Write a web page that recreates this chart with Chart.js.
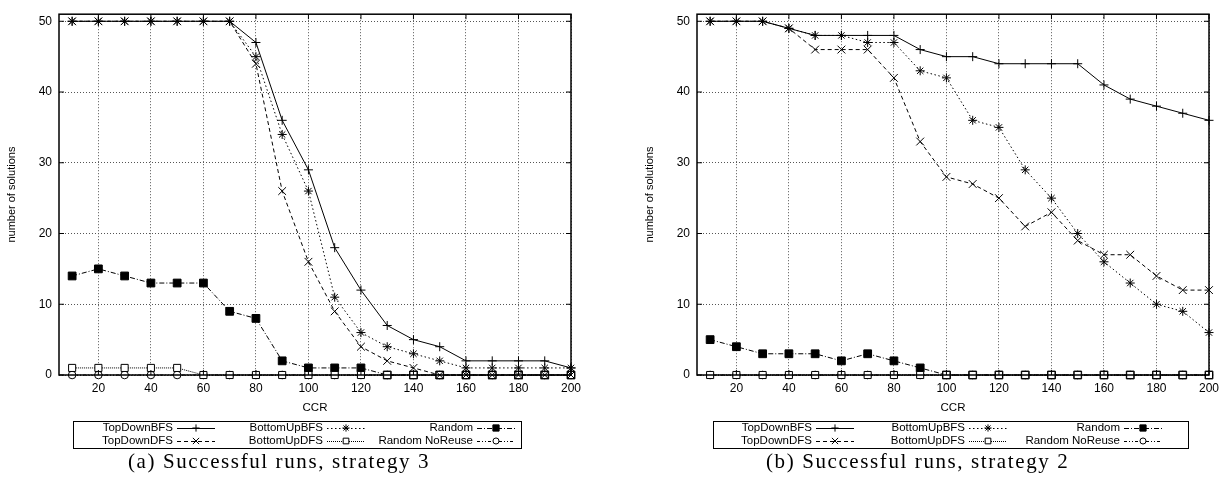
<!DOCTYPE html>
<html>
<head>
<meta charset="utf-8">
<script src="https://cdn.jsdelivr.net/npm/chart.js@4.4.1/dist/chart.umd.min.js"></script>
<style>
  body { margin: 0; background: #fff; width: 1226px; height: 481px; position: relative; overflow: hidden; }
  canvas { position: absolute; top: 0; }
  .caption { position: absolute; top: 450px; font-family: "Liberation Serif", serif; font-size: 21px; line-height: 23px; white-space: nowrap; letter-spacing: 1.6px; }
</style>
</head>
<body>
<canvas id="chartA" width="613" height="452" style="left:0"></canvas>
<canvas id="chartB" width="613" height="452" style="left:613px"></canvas>
<div class="caption" style="left:128px">(a) Successful runs, strategy 3</div>
<div class="caption" style="left:766px">(b) Successful runs, strategy 2</div>
<script>
// donnees
const ccr = [10, 20, 30, 40, 50, 60, 70, 80, 90, 100, 110, 120, 130, 140, 150, 160, 170, 180, 190, 200];
const xTicks = [20, 40, 60, 80, 100, 120, 140, 160, 180, 200];
const yTicks = [0, 10, 20, 30, 40, 50];
const seriesNames = ['TopDownBFS', 'TopDownDFS', 'BottomUpBFS', 'BottomUpDFS', 'Random', 'Random NoReuse'];

// (a) strategie 3
const s3TopDownBFS   = [50, 50, 50, 50, 50, 50, 50, 47, 36, 29, 18, 12, 7, 5, 4, 2, 2, 2, 2, 1];
const s3TopDownDFS   = [50, 50, 50, 50, 50, 50, 50, 44, 26, 16, 9, 4, 2, 1, 0, 0, 0, 0, 0, 0];
const s3BottomUpBFS  = [50, 50, 50, 50, 50, 50, 50, 45, 34, 26, 11, 6, 4, 3, 2, 1, 1, 1, 1, 1];
const s3BottomUpDFS  = [1, 1, 1, 1, 1, 0, 0, 0, 0, 0, 0, 0, 0, 0, 0, 0, 0, 0, 0, 0];
const s3Random       = [14, 15, 14, 13, 13, 13, 9, 8, 2, 1, 1, 1, 0, 0, 0, 0, 0, 0, 0, 0];
const s3RandomNoReuse = [0, 0, 0, 0, 0, 0, 0, 0, 0, 0, 0, 0, 0, 0, 0, 0, 0, 0, 0, 0];

// (b) strategie 2
const s2TopDownBFS   = [50, 50, 50, 49, 48, 48, 48, 48, 46, 45, 45, 44, 44, 44, 44, 41, 39, 38, 37, 36];
const s2TopDownDFS   = [50, 50, 50, 49, 46, 46, 46, 42, 33, 28, 27, 25, 21, 23, 19, 17, 17, 14, 12, 12];
const s2BottomUpBFS  = [50, 50, 50, 49, 48, 48, 47, 47, 43, 42, 36, 35, 29, 25, 20, 16, 13, 10, 9, 6];
const s2BottomUpDFS  = [0, 0, 0, 0, 0, 0, 0, 0, 0, 0, 0, 0, 0, 0, 0, 0, 0, 0, 0, 0];
const s2Random       = [5, 4, 3, 3, 3, 2, 3, 2, 1, 0, 0, 0, 0, 0, 0, 0, 0, 0, 0, 0];
const s2RandomNoReuse = [0, 0, 0, 0, 0, 0, 0, 0, 0, 0, 0, 0, 0, 0, 0, 0, 0, 0, 0, 0];

// styles des courbes (style gnuplot noir et blanc)
const lineStyles = [
    { dash: [], point: 'cross', radius: 4.5, fill: '#000' },
    { dash: [4, 3], point: 'crossRot', radius: 5.5, fill: '#000' },
    { dash: [1.5, 2.5], point: 'star', radius: 4.5, fill: '#000' },
    { dash: [1, 1], point: 'rect', radius: 5, fill: '#fff' },
    { dash: [5, 2, 1, 2], point: 'rect', radius: 5.5, fill: '#000' },
    { dash: [3, 2, 1, 2, 1, 2], point: 'circle', radius: 3.8, fill: '#fff' }
];

function makeDatasets(series) {
    return series.map(function (values, i) {
        const st = lineStyles[i];
        return {
            label: seriesNames[i],
            data: ccr.map(function (c, k) { return { x: c, y: values[k] }; }),
            borderColor: '#000',
            backgroundColor: st.fill,
            borderWidth: 1,
            borderDash: st.dash,
            pointStyle: st.point,
            pointRadius: st.radius,
            pointBorderWidth: 1,
            pointBorderColor: '#000',
            pointBackgroundColor: st.fill,
            tension: 0,
            clip: false
        };
    });
}

// cadre, petits traits de graduation et legende encadree
const framePlugin = {
    id: 'frameLegend',
    afterDraw: function (chart, args, opts) {
        const ctx = chart.ctx;
        const a = chart.chartArea;
        const xs = chart.scales.x, ys = chart.scales.y;
        ctx.save();
        ctx.strokeStyle = '#000';
        ctx.lineWidth = 1;
        ctx.setLineDash([]);
        ctx.beginPath();
        xTicks.forEach(function (v) {
            const px = xs.getPixelForValue(v);
            ctx.moveTo(px, a.bottom); ctx.lineTo(px, a.bottom - 5);
            ctx.moveTo(px, a.top); ctx.lineTo(px, a.top + 5);
        });
        yTicks.forEach(function (v) {
            const py = ys.getPixelForValue(v);
            ctx.moveTo(a.left, py); ctx.lineTo(a.left + 5, py);
            ctx.moveTo(a.right, py); ctx.lineTo(a.right - 5, py);
        });
        ctx.stroke();
        ctx.lineWidth = 1.5;
        ctx.strokeRect(a.left, a.top, a.right - a.left, a.bottom - a.top);

        // legende
        const lg = opts.box;
        ctx.lineWidth = 1;
        ctx.strokeRect(lg.left + 0.5, lg.top + 0.5, lg.width, lg.height);
        ctx.font = '11.5px "Liberation Sans", Arial, sans-serif';
        ctx.textAlign = 'right';
        ctx.textBaseline = 'middle';
        chart.data.datasets.forEach(function (ds, i) {
            const col = lg.cols[Math.floor(i / 2)];
            const y = lg.top + lg.rows[i % 2];
            ctx.fillStyle = '#000';
            ctx.fillText(ds.label, lg.left + col.textRight, y);
            const x0 = lg.left + col.textRight + 4, x1 = x0 + lg.sample;
            ctx.setLineDash(ds.borderDash);
            ctx.beginPath();
            ctx.moveTo(x0, y + 0.5); ctx.lineTo(x1, y + 0.5);
            ctx.stroke();
            ctx.setLineDash([]);
            ctx.fillStyle = ds.pointBackgroundColor;
            Chart.helpers.drawPoint(ctx, {
                pointStyle: ds.pointStyle, radius: ds.pointRadius * 0.8, rotation: 0, borderWidth: 1
            }, (x0 + x1) / 2, y);
        });
        ctx.restore();
    }
};

function buildChart(id, series, padLeft, padRight, legendBox) {
    const ctx = document.getElementById(id).getContext('2d');
    return new Chart(ctx, {
        type: 'line',
        data: { datasets: makeDatasets(series) },
        options: {
            responsive: false,
            animation: false,
            events: [],
            layout: { padding: { left: padLeft, right: padRight, top: 8, bottom: 33 } },
            plugins: {
                legend: { display: false },
                tooltip: { enabled: false },
                frameLegend: { box: legendBox }
            },
            scales: {
                x: {
                    type: 'linear',
                    min: 5,
                    max: 200,
                    afterBuildTicks: function (s) { s.ticks = xTicks.map(function (v) { return { value: v }; }); },
                    afterFit: function (s) { s.height = 44; },
                    grid: { color: '#555', lineWidth: 1, drawTicks: false },
                    border: { display: false, dash: [1, 2] },
                    ticks: { color: '#000', padding: 6, maxRotation: 0, font: { family: '"Liberation Sans", Arial, sans-serif', size: 12 } },
                    title: { display: true, text: 'CCR', color: '#000', padding: { top: 2, bottom: 4 }, font: { family: '"Liberation Sans", Arial, sans-serif', size: 11.5 } }
                },
                y: {
                    type: 'linear',
                    min: 0,
                    max: 51,
                    afterBuildTicks: function (s) { s.ticks = yTicks.map(function (v) { return { value: v }; }); },
                    afterFit: function (s) { s.width = 59; },
                    grid: { color: '#555', lineWidth: 1, drawTicks: false },
                    border: { display: false, dash: [1, 2] },
                    ticks: { color: '#000', padding: 7, font: { family: '"Liberation Sans", Arial, sans-serif', size: 12 } },
                    title: { display: true, text: 'number of solutions', color: '#000', padding: { top: 5, bottom: 0 }, font: { family: '"Liberation Sans", Arial, sans-serif', size: 11 } }
                }
            }
        },
        plugins: [framePlugin]
    });
}

buildChart('chartA',
    [s3TopDownBFS, s3TopDownDFS, s3BottomUpBFS, s3BottomUpDFS, s3Random, s3RandomNoReuse],
    0, 42,
    { left: 73, top: 421, width: 448, height: 27, rows: [7, 20], sample: 38,
      cols: [{ textRight: 100 }, { textRight: 250 }, { textRight: 400 }] });

buildChart('chartB',
    [s2TopDownBFS, s2TopDownDFS, s2BottomUpBFS, s2BottomUpDFS, s2Random, s2RandomNoReuse],
    25, 17,
    { left: 100, top: 421, width: 475, height: 27, rows: [7, 20], sample: 38,
      cols: [{ textRight: 99 }, { textRight: 252 }, { textRight: 407 }] });
</script>
</body>
</html>
